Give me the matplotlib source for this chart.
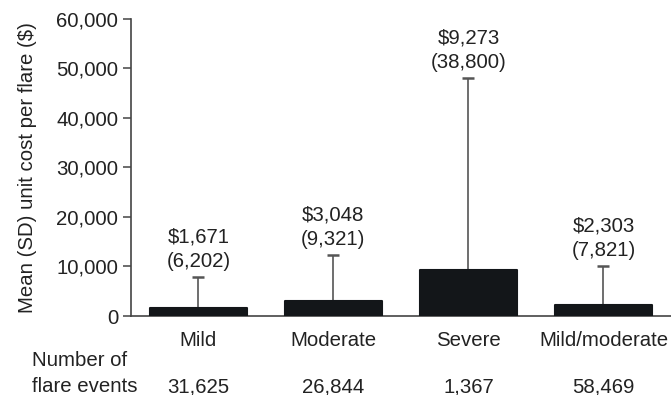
import numpy as np
import matplotlib.pyplot as plt
from matplotlib.transforms import blended_transform_factory

plt.rcParams['font.family'] = ['Liberation Sans', 'DejaVu Sans']
plt.rcParams['font.size'] = 14.7

# data
categories = ['Mild', 'Moderate', 'Severe', 'Mild/moderate']
mean_cost = [1671, 3048, 9273, 2303]
sd_cost = [6202, 9321, 38800, 7821]
n_events = ['31,625', '26,844', '1,367', '58,469']
yticks = [0, 10000, 20000, 30000, 40000, 50000, 60000]

fig = plt.figure(figsize=(6.71, 3.95), dpi=100)
ax = fig.add_axes([0.195, 0.2, 0.805, 0.752])

x = np.arange(len(categories))
ax.bar(x, mean_cost, width=0.72, color='#131619', edgecolor='#131619',
       linewidth=1.5, joinstyle='round', zorder=3)

eb = ax.errorbar(x, mean_cost, yerr=[np.zeros(len(x)), sd_cost], fmt='none',
                 ecolor='#555555', elinewidth=1.2, capsize=4.5, capthick=1.8, zorder=2)
for cap in eb[1]:
    cap.set_color('#111111')

# mean (SD) labels above each error bar
for xi, m, s in zip(x, mean_cost, sd_cost):
    ax.annotate('${:,}\n({:,})'.format(m, s), (xi, m + s), xytext=(0, 4),
                textcoords='offset points', ha='center', va='bottom',
                linespacing=1.4, color='#222222')

ax.set_xlim(-0.5, 3.5)
ax.set_ylim(0, 60000)
ax.set_yticks(yticks)
ax.set_yticklabels(['{:,}'.format(v) for v in yticks])
ax.set_xticks(x)
ax.set_xticklabels(categories)
ax.tick_params(axis='x', length=0, pad=11, colors='#222222')
ax.tick_params(axis='y', length=5.5, width=1.1, pad=3.5, colors='#222222')
ax.tick_params(axis='y', color='#444444')

for side in ['top', 'right']:
    ax.spines[side].set_visible(False)
for side in ['left', 'bottom']:
    ax.spines[side].set_color('#444444')
    ax.spines[side].set_linewidth(1.2)

ax.set_ylabel('Mean (SD) unit cost per flare ($)', color='#222222', labelpad=14)

# number of flare events row
trans = blended_transform_factory(ax.transData, ax.transAxes)
for xi, n in zip(x, n_events):
    ax.text(xi, -0.256, n, transform=trans, ha='center', va='baseline',
            color='#222222')
fig.text(0.048, 1 - 392 / 395, 'Number of\nflare events', ha='left',
         va='baseline', linespacing=1.45, color='#222222')

fig.savefig('out.png', dpi=100)
